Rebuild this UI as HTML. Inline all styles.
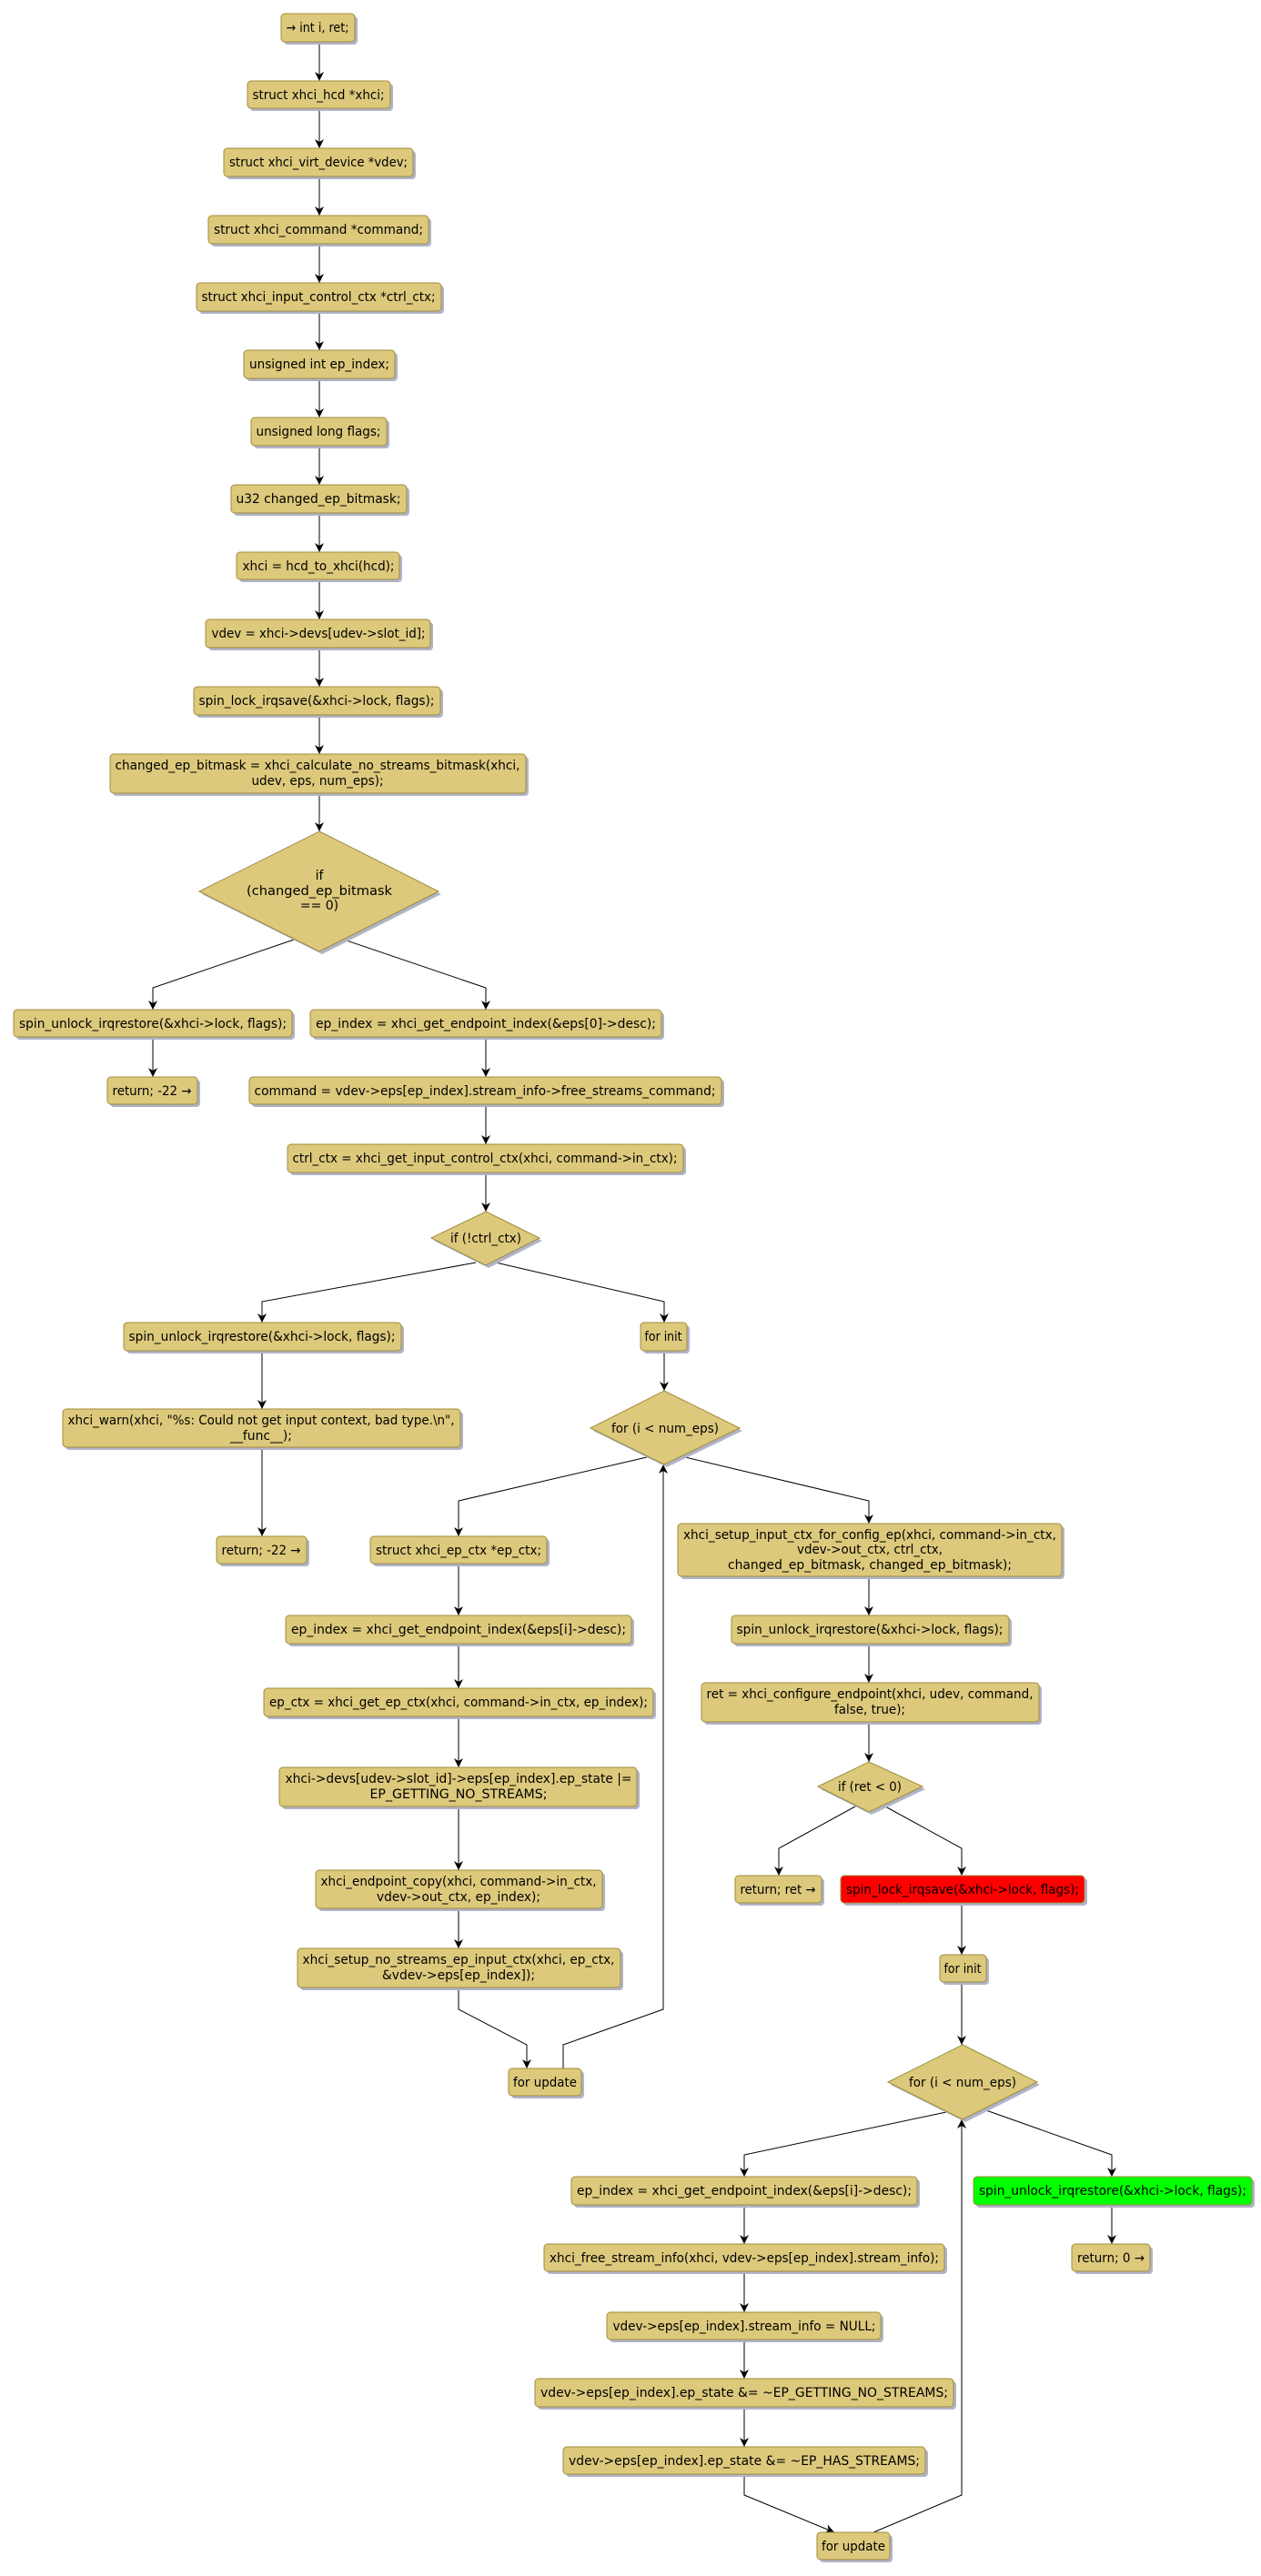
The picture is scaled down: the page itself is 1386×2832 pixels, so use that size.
<!DOCTYPE html>
<html><head><meta charset="utf-8">
<style>
html,body{margin:0;padding:0;background:#fff;}
svg{display:block;}
text{font-family:"DejaVu Sans","Liberation Sans",sans-serif;font-size:14px;fill:#000;}
.b{fill:#DDC97C;stroke:#A08C3C;stroke-width:1;}
.s{fill:#AFB4C8;stroke:none;}
.e{fill:none;stroke:#000;stroke-width:1;}
</style></head><body>
<svg width="1386" height="2832" viewBox="0 0 1386 2832" xmlns="http://www.w3.org/2000/svg">
<defs>
<marker id="a" viewBox="0 0 10 10" refX="10" refY="5" markerWidth="10" markerHeight="10" orient="auto" markerUnits="userSpaceOnUse">
<path d="M0,0 L10,5 L0,10 L3,5 Z" fill="#000"/>
</marker>
</defs>
<g id="edges">
<polyline class="e" marker-end="url(#a)" points="351,46 351,89"/>
<polyline class="e" marker-end="url(#a)" points="351,119 351,163"/>
<polyline class="e" marker-end="url(#a)" points="351,194 351,237"/>
<polyline class="e" marker-end="url(#a)" points="351,268 351,311"/>
<polyline class="e" marker-end="url(#a)" points="351,342 351,385"/>
<polyline class="e" marker-end="url(#a)" points="351,416 351,459"/>
<polyline class="e" marker-end="url(#a)" points="351,490 351,533"/>
<polyline class="e" marker-end="url(#a)" points="351,564 351,607"/>
<polyline class="e" marker-end="url(#a)" points="351,638 351,681"/>
<polyline class="e" marker-end="url(#a)" points="351,712 351,755"/>
<polyline class="e" marker-end="url(#a)" points="351,786 351,829"/>
<polyline class="e" marker-end="url(#a)" points="351,872 351,914"/>
<polyline class="e" marker-end="url(#a)" points="323,1033 168,1086 168,1110"/>
<polyline class="e" marker-end="url(#a)" points="378,1033 534,1086 534,1110"/>
<polyline class="e" marker-end="url(#a)" points="168,1140 168,1184"/>
<polyline class="e" marker-end="url(#a)" points="534,1140 534,1184"/>
<polyline class="e" marker-end="url(#a)" points="534,1214 534,1258"/>
<polyline class="e" marker-end="url(#a)" points="534,1289 534,1332"/>
<polyline class="e" marker-end="url(#a)" points="523,1388 288,1431 288,1454"/>
<polyline class="e" marker-end="url(#a)" points="545,1388 730,1431 730,1454"/>
<polyline class="e" marker-end="url(#a)" points="288,1485 288,1549"/>
<polyline class="e" marker-end="url(#a)" points="288,1591 288,1689"/>
<polyline class="e" marker-end="url(#a)" points="730,1485 730,1529"/>
<polyline class="e" marker-end="url(#a)" points="711,1602 504,1650 504,1689"/>
<polyline class="e" marker-end="url(#a)" points="753,1602 955,1650 955,1675"/>
<polyline class="e" marker-end="url(#a)" points="504,1719 504,1776"/>
<polyline class="e" marker-end="url(#a)" points="504,1807 504,1856"/>
<polyline class="e" marker-end="url(#a)" points="504,1887 504,1943"/>
<polyline class="e" marker-end="url(#a)" points="504,1986 504,2056"/>
<polyline class="e" marker-end="url(#a)" points="504,2098 504,2142"/>
<polyline class="e" marker-end="url(#a)" points="504,2185 504,2209 579,2248 579,2274"/>
<polyline class="e" marker-end="url(#a)" points="619,2274 619,2248 729,2209 729,1610"/>
<polyline class="e" marker-end="url(#a)" points="955,1733 955,1776"/>
<polyline class="e" marker-end="url(#a)" points="955,1807 955,1850"/>
<polyline class="e" marker-end="url(#a)" points="955,1893 955,1937"/>
<polyline class="e" marker-end="url(#a)" points="940,1986 856,2032 856,2062"/>
<polyline class="e" marker-end="url(#a)" points="973,1986 1057,2032 1057,2062"/>
<polyline class="e" marker-end="url(#a)" points="1057,2092 1057,2149"/>
<polyline class="e" marker-end="url(#a)" points="1057,2179 1057,2248"/>
<polyline class="e" marker-end="url(#a)" points="1040,2322 818,2369 818,2393"/>
<polyline class="e" marker-end="url(#a)" points="1081,2319 1222,2369 1222,2393"/>
<polyline class="e" marker-end="url(#a)" points="1222,2424 1222,2467"/>
<polyline class="e" marker-end="url(#a)" points="818,2424 818,2467"/>
<polyline class="e" marker-end="url(#a)" points="818,2497 818,2542"/>
<polyline class="e" marker-end="url(#a)" points="818,2572 818,2615"/>
<polyline class="e" marker-end="url(#a)" points="818,2646 818,2690"/>
<polyline class="e" marker-end="url(#a)" points="818,2720 818,2743 917,2784"/>
<polyline class="e" marker-end="url(#a)" points="960,2784 1057,2743 1057,2330"/>
</g>

<g id="diamonds">
<polygon class="s" points="354,917 485,983 354,1049 222,983"/>
<polygon class="b" points="351,914 482,980 351,1046 219,980"/>
<text x="351" y="967" text-anchor="middle">if</text>
<text x="351" y="984" text-anchor="middle" textLength="160" lengthAdjust="spacingAndGlyphs">(changed_ep_bitmask</text>
<text x="351" y="1000" text-anchor="middle">== 0)</text>

<polygon class="s" points="537,1335 596,1364 537,1394 477,1364"/>
<polygon class="b" points="534,1332 593,1361 534,1391 474,1361"/>
<text x="534" y="1366" text-anchor="middle" textLength="78" lengthAdjust="spacingAndGlyphs">if (!ctrl_ctx)</text>

<polygon class="s" points="733,1532 816,1573 733,1613 652,1573"/>
<polygon class="b" points="730,1529 813,1570 730,1610 649,1570"/>
<text x="731" y="1575" text-anchor="middle" textLength="118" lengthAdjust="spacingAndGlyphs">for (i &lt; num_eps)</text>

<polygon class="s" points="958,1940 1017,1967 958,1995 902,1967"/>
<polygon class="b" points="955,1937 1014,1964 955,1992 899,1964"/>
<text x="956" y="1969" text-anchor="middle" textLength="70" lengthAdjust="spacingAndGlyphs">if (ret &lt; 0)</text>

<polygon class="s" points="1061,2251 1143,2292 1061,2333 979,2292"/>
<polygon class="b" points="1058,2248 1140,2289 1058,2330 976,2289"/>
<text x="1058" y="2294" text-anchor="middle" textLength="118" lengthAdjust="spacingAndGlyphs">for (i &lt; num_eps)</text>
</g>

<g id="boxes">
<rect class="s" x="312" y="18" width="81" height="31" rx="4"/><rect class="b" x="309" y="15" width="81" height="31" rx="4"/>
<text x="349" y="35" text-anchor="middle" textLength="69" lengthAdjust="spacingAndGlyphs">→ int i, ret;</text>

<rect class="s" x="275" y="92" width="157" height="30" rx="4"/><rect class="b" x="272" y="89" width="157" height="30" rx="4"/>
<text x="350" y="109" text-anchor="middle" textLength="145" lengthAdjust="spacingAndGlyphs">struct xhci_hcd *xhci;</text>

<rect class="s" x="249" y="166" width="208" height="31" rx="4"/><rect class="b" x="246" y="163" width="208" height="31" rx="4"/>
<text x="350" y="183" text-anchor="middle" textLength="196" lengthAdjust="spacingAndGlyphs">struct xhci_virt_device *vdev;</text>

<rect class="s" x="232" y="240" width="242" height="31" rx="4"/><rect class="b" x="229" y="237" width="242" height="31" rx="4"/>
<text x="350" y="257" text-anchor="middle" textLength="230" lengthAdjust="spacingAndGlyphs">struct xhci_command *command;</text>

<rect class="s" x="219" y="314" width="269" height="31" rx="4"/><rect class="b" x="216" y="311" width="269" height="31" rx="4"/>
<text x="350" y="331" text-anchor="middle" textLength="257" lengthAdjust="spacingAndGlyphs">struct xhci_input_control_ctx *ctrl_ctx;</text>

<rect class="s" x="271" y="388" width="166" height="31" rx="4"/><rect class="b" x="268" y="385" width="166" height="31" rx="4"/>
<text x="351" y="405" text-anchor="middle" textLength="154" lengthAdjust="spacingAndGlyphs">unsigned int ep_index;</text>

<rect class="s" x="279" y="462" width="149" height="31" rx="4"/><rect class="b" x="276" y="459" width="149" height="31" rx="4"/>
<text x="350" y="479" text-anchor="middle" textLength="137" lengthAdjust="spacingAndGlyphs">unsigned long flags;</text>

<rect class="s" x="257" y="536" width="193" height="31" rx="4"/><rect class="b" x="254" y="533" width="193" height="31" rx="4"/>
<text x="350" y="553" text-anchor="middle" textLength="181" lengthAdjust="spacingAndGlyphs">u32 changed_ep_bitmask;</text>

<rect class="s" x="263" y="610" width="179" height="30" rx="4"/><rect class="b" x="260" y="607" width="179" height="30" rx="4"/>
<text x="350" y="627" text-anchor="middle" textLength="167" lengthAdjust="spacingAndGlyphs">xhci = hcd_to_xhci(hcd);</text>

<rect class="s" x="229" y="684" width="247" height="31" rx="4"/><rect class="b" x="226" y="681" width="247" height="31" rx="4"/>
<text x="350" y="701" text-anchor="middle" textLength="235" lengthAdjust="spacingAndGlyphs">vdev = xhci-&gt;devs[udev-&gt;slot_id];</text>

<rect class="s" x="216" y="758" width="271" height="31" rx="4"/><rect class="b" x="213" y="755" width="271" height="31" rx="4"/>
<text x="348" y="775" text-anchor="middle" textLength="259" lengthAdjust="spacingAndGlyphs">spin_lock_irqsave(&amp;xhci-&gt;lock, flags);</text>

<rect class="s" x="124" y="832" width="457" height="43" rx="4"/><rect class="b" x="121" y="829" width="457" height="43" rx="4"/>
<text x="349" y="846" text-anchor="middle" textLength="445" lengthAdjust="spacingAndGlyphs">changed_ep_bitmask = xhci_calculate_no_streams_bitmask(xhci,</text>
<text x="349" y="863" text-anchor="middle" textLength="145" lengthAdjust="spacingAndGlyphs">udev, eps, num_eps);</text>

<rect class="s" x="18" y="1113" width="306" height="30" rx="4"/><rect class="b" x="15" y="1110" width="306" height="30" rx="4"/>
<text x="168" y="1130" text-anchor="middle" textLength="294" lengthAdjust="spacingAndGlyphs">spin_unlock_irqrestore(&amp;xhci-&gt;lock, flags);</text>

<rect class="s" x="121" y="1187" width="99" height="30" rx="4"/><rect class="b" x="118" y="1184" width="99" height="30" rx="4"/>
<text x="167" y="1204" text-anchor="middle" textLength="87" lengthAdjust="spacingAndGlyphs">return; -22 →</text>

<rect class="s" x="344" y="1113" width="386" height="30" rx="4"/><rect class="b" x="341" y="1110" width="386" height="30" rx="4"/>
<text x="534" y="1130" text-anchor="middle" textLength="374" lengthAdjust="spacingAndGlyphs">ep_index = xhci_get_endpoint_index(&amp;eps[0]-&gt;desc);</text>

<rect class="s" x="277" y="1187" width="519" height="30" rx="4"/><rect class="b" x="274" y="1184" width="519" height="30" rx="4"/>
<text x="533" y="1204" text-anchor="middle" textLength="507" lengthAdjust="spacingAndGlyphs">command = vdev-&gt;eps[ep_index].stream_info-&gt;free_streams_command;</text>

<rect class="s" x="319" y="1261" width="435" height="31" rx="4"/><rect class="b" x="316" y="1258" width="435" height="31" rx="4"/>
<text x="533" y="1278" text-anchor="middle" textLength="423" lengthAdjust="spacingAndGlyphs">ctrl_ctx = xhci_get_input_control_ctx(xhci, command-&gt;in_ctx);</text>

<rect class="s" x="139" y="1457" width="305" height="31" rx="4"/><rect class="b" x="136" y="1454" width="305" height="31" rx="4"/>
<text x="288" y="1474" text-anchor="middle" textLength="293" lengthAdjust="spacingAndGlyphs">spin_unlock_irqrestore(&amp;xhci-&gt;lock, flags);</text>

<rect class="s" x="72" y="1552" width="437" height="42" rx="4"/><rect class="b" x="69" y="1549" width="437" height="42" rx="4"/>
<text x="287" y="1566" text-anchor="middle" textLength="425" lengthAdjust="spacingAndGlyphs">xhci_warn(xhci, "%s: Could not get input context, bad type.\n",</text>
<text x="287" y="1583" text-anchor="middle" textLength="68" lengthAdjust="spacingAndGlyphs">__func__);</text>

<rect class="s" x="241" y="1692" width="99" height="30" rx="4"/><rect class="b" x="238" y="1689" width="99" height="30" rx="4"/>
<text x="287" y="1709" text-anchor="middle" textLength="87" lengthAdjust="spacingAndGlyphs">return; -22 →</text>

<rect class="s" x="707" y="1457" width="51" height="31" rx="4"/><rect class="b" x="704" y="1454" width="51" height="31" rx="4"/>
<text x="729" y="1474" text-anchor="middle" textLength="41" lengthAdjust="spacingAndGlyphs">for init</text>

<rect class="s" x="410" y="1692" width="194" height="30" rx="4"/><rect class="b" x="407" y="1689" width="194" height="30" rx="4"/>
<text x="504" y="1709" text-anchor="middle" textLength="182" lengthAdjust="spacingAndGlyphs">struct xhci_ep_ctx *ep_ctx;</text>

<rect class="s" x="317" y="1779" width="380" height="31" rx="4"/><rect class="b" x="314" y="1776" width="380" height="31" rx="4"/>
<text x="504" y="1796" text-anchor="middle" textLength="368" lengthAdjust="spacingAndGlyphs">ep_index = xhci_get_endpoint_index(&amp;eps[i]-&gt;desc);</text>

<rect class="s" x="293" y="1859" width="428" height="31" rx="4"/><rect class="b" x="290" y="1856" width="428" height="31" rx="4"/>
<text x="504" y="1876" text-anchor="middle" textLength="416" lengthAdjust="spacingAndGlyphs">ep_ctx = xhci_get_ep_ctx(xhci, command-&gt;in_ctx, ep_index);</text>

<rect class="s" x="310" y="1946" width="393" height="43" rx="4"/><rect class="b" x="307" y="1943" width="393" height="43" rx="4"/>
<text x="504" y="1960" text-anchor="middle" textLength="381" lengthAdjust="spacingAndGlyphs">xhci-&gt;devs[udev-&gt;slot_id]-&gt;eps[ep_index].ep_state |=</text>
<text x="504" y="1977" text-anchor="middle" textLength="195" lengthAdjust="spacingAndGlyphs">EP_GETTING_NO_STREAMS;</text>

<rect class="s" x="350" y="2059" width="315" height="42" rx="4"/><rect class="b" x="347" y="2056" width="315" height="42" rx="4"/>
<text x="504" y="2073" text-anchor="middle" textLength="303" lengthAdjust="spacingAndGlyphs">xhci_endpoint_copy(xhci, command-&gt;in_ctx,</text>
<text x="504" y="2090" text-anchor="middle" textLength="180" lengthAdjust="spacingAndGlyphs">vdev-&gt;out_ctx, ep_index);</text>

<rect class="s" x="330" y="2145" width="355" height="43" rx="4"/><rect class="b" x="327" y="2142" width="355" height="43" rx="4"/>
<text x="504" y="2159" text-anchor="middle" textLength="343" lengthAdjust="spacingAndGlyphs">xhci_setup_no_streams_ep_input_ctx(xhci, ep_ctx,</text>
<text x="504" y="2176" text-anchor="middle" textLength="168" lengthAdjust="spacingAndGlyphs">&amp;vdev-&gt;eps[ep_index]);</text>

<rect class="s" x="562" y="2277" width="80" height="30" rx="4"/><rect class="b" x="559" y="2274" width="80" height="30" rx="4"/>
<text x="599" y="2294" text-anchor="middle" textLength="70" lengthAdjust="spacingAndGlyphs">for update</text>

<rect class="s" x="748" y="1678" width="422" height="58" rx="4"/><rect class="b" x="745" y="1675" width="422" height="58" rx="4"/>
<text x="956" y="1692" text-anchor="middle" textLength="410" lengthAdjust="spacingAndGlyphs">xhci_setup_input_ctx_for_config_ep(xhci, command-&gt;in_ctx,</text>
<text x="956" y="1708" text-anchor="middle" textLength="160" lengthAdjust="spacingAndGlyphs">vdev-&gt;out_ctx, ctrl_ctx,</text>
<text x="956" y="1725" text-anchor="middle" textLength="312" lengthAdjust="spacingAndGlyphs">changed_ep_bitmask, changed_ep_bitmask);</text>

<rect class="s" x="807" y="1779" width="305" height="31" rx="4"/><rect class="b" x="804" y="1776" width="305" height="31" rx="4"/>
<text x="956" y="1796" text-anchor="middle" textLength="293" lengthAdjust="spacingAndGlyphs">spin_unlock_irqrestore(&amp;xhci-&gt;lock, flags);</text>

<rect class="s" x="774" y="1853" width="371" height="43" rx="4"/><rect class="b" x="771" y="1850" width="371" height="43" rx="4"/>
<text x="956" y="1867" text-anchor="middle" textLength="359" lengthAdjust="spacingAndGlyphs">ret = xhci_configure_endpoint(xhci, udev, command,</text>
<text x="956" y="1884" text-anchor="middle" textLength="78" lengthAdjust="spacingAndGlyphs">false, true);</text>

<rect class="s" x="811" y="2065" width="95" height="30" rx="4"/><rect class="b" x="808" y="2062" width="95" height="30" rx="4"/>
<text x="855" y="2082" text-anchor="middle" textLength="83" lengthAdjust="spacingAndGlyphs">return; ret →</text>

<rect class="s" x="927" y="2065" width="268" height="30" rx="4"/><rect x="924" y="2062" width="268" height="30" rx="4" fill="#FF0000" stroke="#A08C3C"/>
<text x="1058" y="2082" text-anchor="middle" textLength="256" lengthAdjust="spacingAndGlyphs">spin_lock_irqsave(&amp;xhci-&gt;lock, flags);</text>

<rect class="s" x="1036" y="2152" width="51" height="30" rx="4"/><rect class="b" x="1033" y="2149" width="51" height="30" rx="4"/>
<text x="1058" y="2169" text-anchor="middle" textLength="41" lengthAdjust="spacingAndGlyphs">for init</text>

<rect class="s" x="631" y="2396" width="380" height="31" rx="4"/><rect class="b" x="628" y="2393" width="380" height="31" rx="4"/>
<text x="818" y="2413" text-anchor="middle" textLength="368" lengthAdjust="spacingAndGlyphs">ep_index = xhci_get_endpoint_index(&amp;eps[i]-&gt;desc);</text>

<rect class="s" x="1073" y="2396" width="306" height="31" rx="4"/><rect x="1070" y="2393" width="306" height="31" rx="4" fill="#00FF00" stroke="#A08C3C"/>
<text x="1223" y="2413" text-anchor="middle" textLength="294" lengthAdjust="spacingAndGlyphs">spin_unlock_irqrestore(&amp;xhci-&gt;lock, flags);</text>

<rect class="s" x="1181" y="2470" width="86" height="30" rx="4"/><rect class="b" x="1178" y="2467" width="86" height="30" rx="4"/>
<text x="1221" y="2487" text-anchor="middle" textLength="74" lengthAdjust="spacingAndGlyphs">return; 0 →</text>

<rect class="s" x="601" y="2470" width="440" height="30" rx="4"/><rect class="b" x="598" y="2467" width="440" height="30" rx="4"/>
<text x="818" y="2487" text-anchor="middle" textLength="428" lengthAdjust="spacingAndGlyphs">xhci_free_stream_info(xhci, vdev-&gt;eps[ep_index].stream_info);</text>

<rect class="s" x="670" y="2545" width="301" height="30" rx="4"/><rect class="b" x="667" y="2542" width="301" height="30" rx="4"/>
<text x="818" y="2562" text-anchor="middle" textLength="289" lengthAdjust="spacingAndGlyphs">vdev-&gt;eps[ep_index].stream_info = NULL;</text>

<rect class="s" x="591" y="2618" width="460" height="31" rx="4"/><rect class="b" x="588" y="2615" width="460" height="31" rx="4"/>
<text x="818" y="2635" text-anchor="middle" textLength="448" lengthAdjust="spacingAndGlyphs">vdev-&gt;eps[ep_index].ep_state &amp;= ~EP_GETTING_NO_STREAMS;</text>

<rect class="s" x="622" y="2693" width="398" height="30" rx="4"/><rect class="b" x="619" y="2690" width="398" height="30" rx="4"/>
<text x="818" y="2710" text-anchor="middle" textLength="386" lengthAdjust="spacingAndGlyphs">vdev-&gt;eps[ep_index].ep_state &amp;= ~EP_HAS_STREAMS;</text>

<rect class="s" x="901" y="2787" width="80" height="30" rx="4"/><rect class="b" x="898" y="2784" width="80" height="30" rx="4"/>
<text x="938" y="2804" text-anchor="middle" textLength="70" lengthAdjust="spacingAndGlyphs">for update</text>
</g>
</svg>
</body></html>
